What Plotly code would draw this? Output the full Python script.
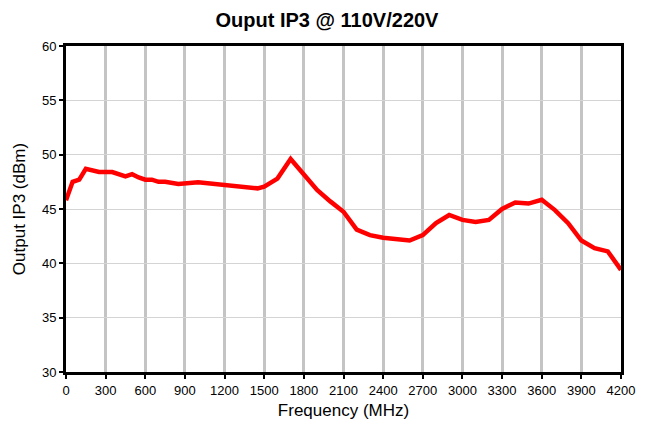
import plotly.graph_objects as go

freq_mhz = [0, 50, 100, 150, 250, 350, 450, 500, 550, 600, 650, 700, 750, 850, 1000,
            1150, 1300, 1400, 1450, 1500, 1600, 1700, 1800, 1900, 2000, 2100, 2200,
            2300, 2400, 2500, 2600, 2700, 2800, 2900, 3000, 3100, 3200, 3300, 3400,
            3500, 3600, 3700, 3800, 3900, 4000, 4100, 4200]
ip3_dbm = [45.8, 47.5, 47.7, 48.7, 48.4, 48.4, 48.0, 48.2, 47.9, 47.7, 47.7, 47.5, 47.5,
           47.3, 47.45, 47.3, 47.05, 47.0, 46.9, 47.05, 47.8, 49.6, 48.2, 46.75, 45.7,
           44.75, 43.1, 42.6, 42.35, 42.2, 42.1, 42.6, 43.7, 44.45, 44.0, 43.8, 44.0,
           45.0, 45.6, 45.5, 45.85, 44.9, 43.7, 42.1, 41.4, 41.1, 39.4]
x_ticks = list(range(0, 4201, 300))
y_ticks = list(range(30, 61, 5))

font = "Liberation Sans, Arial, sans-serif"

fig = go.Figure()
fig.add_trace(go.Scatter(x=freq_mhz, y=ip3_dbm, mode="lines",
                         line=dict(color="#ff0000", width=4.5), showlegend=False))

fig.update_layout(
    width=638, height=413,
    margin=dict(l=58, r=25, t=38, b=49),
    paper_bgcolor="white", plot_bgcolor="white",
    font=dict(family=font, color="black", size=13),
    title=dict(text="<b>Ouput IP3 @ 110V/220V</b>", x=0.5, xanchor="center",
               y=0.97, yanchor="middle", font=dict(size=20, family=font, color="black")),
)
fig.update_xaxes(range=[0, 4200], tickvals=x_ticks, ticktext=[str(t) for t in x_ticks],
                 showgrid=True, gridcolor="#c4c4c4", gridwidth=3,
                 showline=True, linecolor="black", linewidth=3, mirror=True,
                 ticks="outside", ticklen=4, tickwidth=2, tickcolor="black",
                 tickfont=dict(size=13, family=font), automargin=False,
                 title=dict(text="Frequency (MHz)", font=dict(size=17, family=font), standoff=8),
                 zeroline=False)
fig.update_yaxes(range=[30, 60], tickvals=y_ticks,
                 showgrid=True, gridcolor="#d4d4d4", gridwidth=1,
                 showline=True, linecolor="black", linewidth=3, mirror=True,
                 ticks="outside", ticklen=4, tickwidth=2, tickcolor="black",
                 tickfont=dict(size=13, family=font), automargin=False,
                 title=dict(text="Output IP3 (dBm)", font=dict(size=17, family=font), standoff=12),
                 zeroline=False)

fig.write_html("out.html")
